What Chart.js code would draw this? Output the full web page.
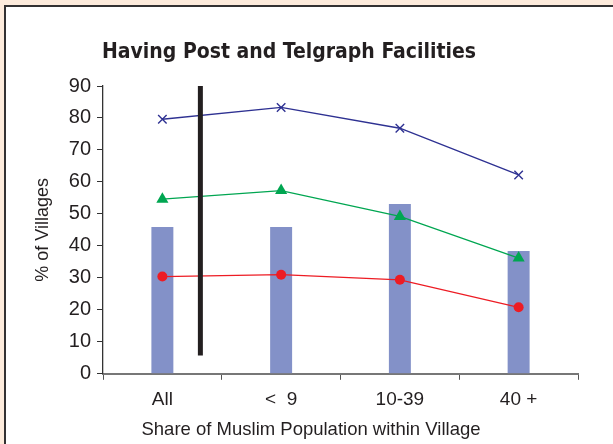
<!DOCTYPE html>
<html>
<head>
<meta charset="utf-8">
<script src="https://cdn.jsdelivr.net/npm/chart.js@4.4.0/dist/chart.umd.min.js"></script>
<style>
  html, body { margin: 0; padding: 0; background: #fdebdc; width: 613px; height: 444px; overflow: hidden; }
  #frame { position: absolute; left: 4px; top: 5px; width: 700px; height: 500px; background: #ffffff;
           border-left: 2px solid #333132; border-top: 2px solid #333132; }
  #wrap { position: absolute; left: 0; top: 0; width: 613px; height: 444px; }
</style>
</head>
<body>
<div id="frame"></div>
<div id="wrap"><canvas id="c" width="613" height="444"></canvas></div>
<script>
const categories = ["All", "<  9", "10-39", "40 +"];
const barValues = [45.9, 45.9, 53.1, 38.4];
const blueValues = [79.6, 83.3, 76.8, 62.2];
const greenValues = [54.6, 57.3, 49.2, 36.2];
const redValues = [30.4, 31.0, 29.4, 20.8];
const yTicks = [0, 10, 20, 30, 40, 50, 60, 70, 80, 90];
const dividerX = 0.32;
const dividerY = [90.3, 5.7];

const TITLE_TEXT = 'Having Post and Telgraph Facilities';
const XTITLE_TEXT = 'Share of Muslim Population within Village';

const FONT = "'Liberation Sans', Arial, sans-serif";
const TXT = '#231f20';

// shift the full-width text blocks horizontally to match the original placement
const shiftTitles = {
  id: 'shiftTitles',
  afterLayout(chart) {
    chart.boxes.forEach(b => {
      if (b.options && b.options.text === TITLE_TEXT) { b.left -= 13; b.right -= 13; }
      if (b.options && b.options.text === XTITLE_TEXT) { b.left += 9; b.right += 9; }
    });
  }
};

new Chart(document.getElementById('c'), {
  data: {
    labels: categories,
    datasets: [
      { type: 'bar', data: barValues, backgroundColor: '#8391c8', barPercentage: 0.185, categoryPercentage: 1,
        grouped: false, order: 5 },
      { type: 'line', data: blueValues, borderColor: '#2e3192', borderWidth: 1.4, pointStyle: 'crossRot',
        pointRadius: 6, pointBorderColor: '#2e3192', pointBorderWidth: 1.4, fill: false, order: 3 },
      { type: 'line', data: greenValues, borderColor: '#00a651', backgroundColor: '#00a651', borderWidth: 1.3, pointStyle: 'triangle',
        pointRadius: 7, pointBorderWidth: 0, fill: false, order: 3 },
      { type: 'line', data: redValues, borderColor: '#ed1c24', backgroundColor: '#ed1c24', borderWidth: 1.3, pointStyle: 'circle',
        pointRadius: 5, pointBorderWidth: 0, fill: false, order: 3 },
      { type: 'line', xAxisID: 'x2', data: [{x: dividerX, y: dividerY[0]}, {x: dividerX, y: dividerY[1]}],
        borderColor: '#231f20', borderWidth: 5, pointRadius: 0, borderCapStyle: 'butt', fill: false, order: 0 }
    ]
  },
  plugins: [shiftTitles],
  options: {
    responsive: false,
    animation: false,
    devicePixelRatio: 1,
    layout: { padding: { left: 26, right: 35, top: 10, bottom: 3 } },
    plugins: {
      legend: { display: false },
      tooltip: { enabled: false },
      title: {
        display: true,
        text: TITLE_TEXT,
        color: TXT,
        font: { family: "'Liberation Sans Narrow', 'DejaVu Sans Condensed', sans-serif", size: 21, weight: 'bold', lineHeight: 1.2 },
        padding: { top: 30, bottom: 20.8 }
      },
      subtitle: {
        display: true,
        position: 'bottom',
        text: XTITLE_TEXT,
        color: TXT,
        font: { family: FONT, size: 18.5, weight: 'normal', lineHeight: 1.2 },
        padding: { top: 7, bottom: 0 }
      }
    },
    scales: {
      x: {
        type: 'category',
        offset: true,
        afterFit: (s) => { s.height = 38; },
        grid: { display: true, drawOnChartArea: false, drawTicks: true, tickLength: 6, color: '#555', offset: true },
        border: { display: true, color: '#777', width: 2 },
        ticks: { color: TXT, font: { family: FONT, size: 19 }, padding: 9 }
      },
      x2: { type: 'linear', display: false, min: -0.5, max: 3.5 },
      y: {
        min: 0, max: 90,
        afterBuildTicks: (s) => { s.ticks = yTicks.map(v => ({ value: v })); },
        afterFit: (s) => { s.width = 77; },
        grid: { display: true, drawOnChartArea: false, drawTicks: true, tickLength: 6, color: '#333' },
        border: { display: true, color: '#333', width: 1.3 },
        ticks: { color: TXT, font: { family: FONT, size: 20 }, padding: 6 },
        title: { display: true, text: '% of Villages', color: TXT, font: { family: FONT, size: 18 }, padding: { top: 6, bottom: 4 } }
      }
    }
  }
});
</script>
</body>
</html>
